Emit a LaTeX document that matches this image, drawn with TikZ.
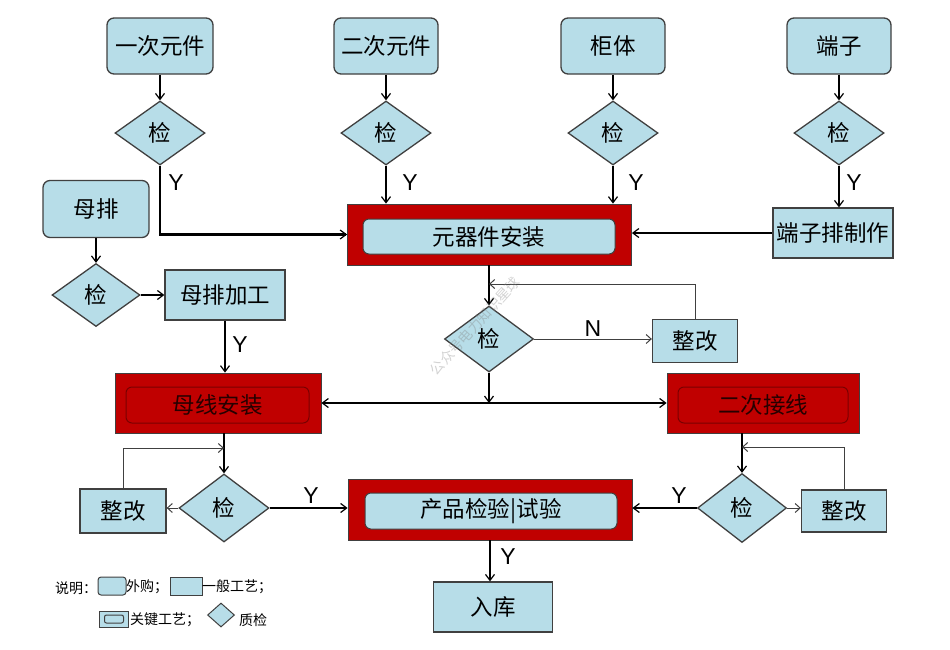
\documentclass[tikz,border=0pt]{standalone}
\usepackage{fontspec}
\setmainfont{Noto Sans CJK SC}
\newfontfamily\latinfont{Liberation Sans}
\usetikzlibrary{arrows.meta,shapes.geometric,calc}
\definecolor{lb}{HTML}{B7DDE8}
\definecolor{bd}{HTML}{404040}
\definecolor{rd}{HTML}{C00000}
\definecolor{drd}{HTML}{7A0000}
\tikzset{
  box/.style={draw=bd,line width=1.3pt,fill=lb,inner sep=0pt,font=\fontsize{22.5}{25}\selectfont},
  rbox/.style={box,rounded corners=7pt},
  chk/.style={diamond,draw=bd,line width=1.3pt,fill=lb,inner sep=0pt,font=\fontsize{22.5}{25}\selectfont},
  redbox/.style={draw=bd,line width=0.8pt,fill=rd,inner sep=0pt},
  inbox/.style={draw=bd,line width=1pt,fill=lb,rounded corners=6pt,inner sep=0pt,font=\fontsize{22.5}{25}\selectfont},
  indark/.style={draw=drd,line width=1pt,fill=rd,rounded corners=6pt,inner sep=0pt,text=black!85!red,font=\fontsize{22.5}{25}\selectfont},
  thk/.style={line width=2.2pt,-{Straight Barb[length=6pt,width=9pt,line width=1.2pt]}},
  thkb/.style={line width=2.2pt,{Straight Barb[length=6pt,width=9pt,line width=1.2pt]}-{Straight Barb[length=6pt,width=9pt,line width=1.2pt]}},
  thn/.style={line width=1pt,draw=bd,-{Straight Barb[length=5pt,width=9pt,line width=1pt]}},
  lab/.style={font=\latinfont\fontsize{23}{26}\selectfont,inner sep=0pt},
  leg/.style={font=\fontsize{14}{16}\selectfont,inner sep=0pt,anchor=west}
}
\begin{document}
\begin{tikzpicture}[x=1pt,y=-1pt]
\useasboundingbox (0,0) rectangle (950,649);
% top inputs
\node[rbox,minimum width=106,minimum height=56] (t1) at (160,46) {一次元件};
\node[rbox,minimum width=104,minimum height=56] (t2) at (386,46) {二次元件};
\node[rbox,minimum width=104,minimum height=56] (t3) at (613,46) {柜体};
\node[rbox,minimum width=104,minimum height=56] (t4) at (839,46) {端子};
\node[chk,minimum width=90,minimum height=64] (d1) at (160,133) {检};
\node[chk,minimum width=90,minimum height=64] (d2) at (386,133) {检};
\node[chk,minimum width=90,minimum height=64] (d3) at (613,133) {检};
\node[chk,minimum width=90,minimum height=64] (d4) at (839,133) {检};
% key process 元器件安装
\node[redbox,minimum width=284,minimum height=61] (yq) at (489.5,234.5) {};
\node[inbox,minimum width=252,minimum height=35] (yqi) at (489,236.5) {元器件安装};
\node[box,minimum width=120,minimum height=50] (dz) at (833,233) {端子排制作};
% busbar
\node[rbox,minimum width=106,minimum height=57] (mp) at (96,209) {母排};
\node[chk,minimum width=88,minimum height=63] (dm) at (96,295) {检};
\node[box,minimum width=120,minimum height=50] (mpjg) at (225,295) {母排加工};
% center check
\node[chk,minimum width=89,minimum height=66] (zj) at (489,339) {检};
\node[box,minimum width=85,minimum height=43] (zg1) at (695,341) {整改};
% 母线安装 / 二次接线
\node[redbox,minimum width=206,minimum height=60] (mx) at (218,403) {};
\node[indark,minimum width=183,minimum height=36] (mxi) at (217.5,405) {母线安装};
\node[redbox,minimum width=192,minimum height=60] (ec) at (763,403) {};
\node[indark,minimum width=170,minimum height=36] (eci) at (763,405) {二次接线};
% lower checks
\node[chk,minimum width=90,minimum height=68] (dmx) at (224,508) {检};
\node[box,minimum width=86,minimum height=44] (zg2) at (123,511) {整改};
\node[chk,minimum width=89,minimum height=69] (dec) at (742,508) {检};
\node[box,minimum width=85,minimum height=42] (zg3) at (844,511) {整改};
% product test
\node[redbox,minimum width=284,minimum height=61] (cp) at (490,509.5) {};
\node[inbox,minimum width=252,minimum height=36] (cpi) at (491,511) {产品检验|试验};
\node[box,minimum width=119,minimum height=50] (rk) at (493,607) {入库};
% coordinates
\coordinate (fb1) at (489,284);
\coordinate (hub) at (489,403);
\coordinate (fb2) at (224,448);
\coordinate (fb3) at (742,447);
% connectors top
\draw[thk] (t1.south) -- (d1.north);
\draw[thk] (t2.south) -- (d2.north);
\draw[thk] (t3.south) -- (d3.north);
\draw[thk] (t4.south) -- (d4.north);
\draw[thk] (d1.south) |- (yq.west);
\draw[thk] (d2.south) -- (d2.south |- yq.north);
\draw[thk] (d3.south) -- (d3.south |- yq.north);
\draw[thk] (d4.south) -- (d4.south |- dz.north);
\draw[thk] (dz.west) -- (dz.west -| yq.east);
\draw[thk] (mp.south) -- (dm.north);
\draw[thk] (dm.east) -- (mpjg.west);
\draw[thk] (mpjg.south) -- (mpjg.south |- mx.north);
\draw[thk] (yq.south -| zj.north) -- (zj.north);
\draw[thn] (zj.east) -- (zj.east -| zg1.west);
\draw[thn] (zg1.north) |- (fb1);
\draw[thk] (zj.south) -- (hub);
\draw[thkb] (mx.east) -- (ec.west);
\draw[thk] (dmx.north |- mx.south) -- (dmx.north);
\draw[thn] (zg2.north) |- (fb2);
\draw[thn] (dmx.west) -- (dmx.west -| zg2.east);
\draw[thk] (dmx.east) -- (dmx.east -| cp.west);
\draw[thk] (dec.north |- ec.south) -- (dec.north);
\draw[thn] (zg3.north) |- (fb3);
\draw[thn] (dec.east) -- (dec.east -| zg3.west);
\draw[thk] (dec.west) -- (dec.west -| cp.east);
\draw[thk] (cp.south) -- (cp.south |- rk.north);
% labels
\node[lab] (y1) at (176,183) {Y};
\node[lab] (y2) at (410,183) {Y};
\node[lab] (y3) at (636,183) {Y};
\node[lab] (y4) at (854,183) {Y};
\node[lab] (y5) at (240,345) {Y};
\node[lab] (y6) at (311,496) {Y};
\node[lab] (y7) at (679,496) {Y};
\node[lab] (y8) at (508,557) {Y};
\node[lab] (n1) at (593,329) {N};
% watermark
\node[rotate=48,text=gray,opacity=0.35,font=\fontsize{14}{16}\selectfont,inner sep=0pt] (wm) at (475,326) {公众号电力知识星球};
% legend
\node[leg] (l1) at (55,588) {说明：};
\node[draw=bd,line width=1pt,fill=lb,rounded corners=3pt,minimum width=28,minimum height=18,inner sep=0pt] (lg1) at (112,586) {};
\node[leg] (l2) at (126,587) {外购；};
\node[draw=bd,line width=1pt,fill=lb,minimum width=32,minimum height=18,inner sep=0pt] (lg2) at (186,586) {};
\node[leg] (l3) at (202,587) {一般工艺；};
\node[draw=bd,line width=1pt,fill=lb,minimum width=29,minimum height=16,inner sep=0pt] (lg3) at (114,619) {};
\node[draw=bd,line width=1pt,fill=lb,rounded corners=2pt,minimum width=19,minimum height=8,inner sep=0pt] (lg3i) at (114,619) {};
\node[leg] (l4) at (130,620) {关键工艺；};
\node[diamond,draw=bd,line width=1pt,fill=lb,minimum width=27,minimum height=24,inner sep=0pt] (lg4) at (221,615) {};
\node[leg] (l5) at (239,620) {质检};
\end{tikzpicture}
\end{document}
